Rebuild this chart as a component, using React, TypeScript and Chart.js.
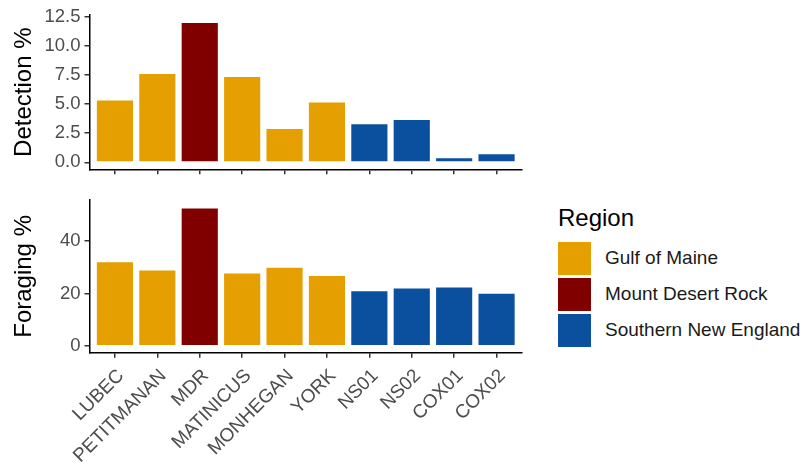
import React, { useEffect, useRef } from 'react';
import { Chart, registerables } from 'chart.js';

Chart.register(...registerables);

const sites = ['LUBEC', 'PETITMANAN', 'MDR', 'MATINICUS', 'MONHEGAN', 'YORK', 'NS01', 'NS02', 'COX01', 'COX02'];
const siteRegions = [
  'Gulf of Maine',
  'Gulf of Maine',
  'Mount Desert Rock',
  'Gulf of Maine',
  'Gulf of Maine',
  'Gulf of Maine',
  'Southern New England',
  'Southern New England',
  'Southern New England',
  'Southern New England',
];
const regionNames = ['Gulf of Maine', 'Mount Desert Rock', 'Southern New England'];
const regionColors = ['#E69F00', '#800000', '#0B509F'];

const detectionPct = [5.4, 7.67, 12.05, 7.42, 2.95, 5.23, 3.35, 3.72, 0.43, 0.77];
const foragingPct = [32.3, 29.2, 52.9, 27.97, 30.2, 27.07, 21.2, 22.3, 22.7, 20.3];

const detectionTicks = [0, 2.5, 5, 7.5, 10, 12.5];
const foragingTicks = [0, 20, 40];

const FONT = "'Liberation Sans', Arial, sans-serif";
Chart.defaults.font.family = FONT;

interface PanelProps {
  values: number[];
  tickValues: number[];
  decimals: number;
  title: string;
  yMin: number;
  yMax: number;
  showLabels: boolean;
  top: number;
  height: number;
  padTop: number;
  xAxisHeight: number;
}

const Panel: React.FC<PanelProps> = (p) => {
  const canvasRef = useRef<HTMLCanvasElement>(null);

  useEffect(() => {
    if (!canvasRef.current) return;
    const colors = siteRegions.map((r) => regionColors[regionNames.indexOf(r)]);

    const chart = new Chart(canvasRef.current, {
      type: 'bar',
      data: {
        datasets: [
          {
            data: p.values.map((v, i) => ({ x: i, y: v })),
            backgroundColor: colors,
            borderColor: '#ffffff',
            borderWidth: 1,
            categoryPercentage: 1,
            barPercentage: 0.9,
          },
        ],
      },
      options: {
        animation: false,
        responsive: true,
        maintainAspectRatio: false,
        layout: { padding: { top: p.padTop, right: 18, left: 0, bottom: 0 } },
        plugins: { legend: { display: false }, tooltip: { enabled: false } },
        scales: {
          x: {
            type: 'linear',
            min: -0.6,
            max: 9.6,
            bounds: 'data',
            offset: false,
            afterBuildTicks: (s: any) => {
              s.ticks = sites.map((_, i) => ({ value: i }));
            },
            afterFit: (s: any) => {
              s.height = p.xAxisHeight;
            },
            ticks: {
              autoSkip: false,
              minRotation: p.showLabels ? 45 : 0,
              maxRotation: p.showLabels ? 45 : 0,
              padding: 7,
              labelOffset: 6,
              color: '#4D4D4D',
              font: { size: 19 },
              callback: (v: any) => (p.showLabels ? sites[Math.round(Number(v))] : ''),
            },
            grid: {
              offset: false,
              drawOnChartArea: false,
              drawTicks: true,
              tickLength: 5,
              color: '#333333',
              tickColor: '#333333',
              lineWidth: 1.5,
            },
            border: { display: true, color: '#000000', width: 1.5 },
          },
          y: {
            min: p.yMin,
            max: p.yMax,
            afterBuildTicks: (s: any) => {
              s.ticks = p.tickValues.map((v) => ({ value: v }));
            },
            afterFit: (s: any) => {
              s.width = 89.5;
            },
            ticks: {
              padding: 4,
              color: '#4D4D4D',
              font: { size: 18.5 },
              callback: (v: any) => Number(v).toFixed(p.decimals),
            },
            grid: {
              drawOnChartArea: false,
              drawTicks: true,
              tickLength: 5,
              color: '#333333',
              tickColor: '#333333',
              lineWidth: 1.5,
            },
            border: { display: true, color: '#000000', width: 1.5 },
            title: {
              display: true,
              text: p.title,
              color: '#000000',
              font: { size: 24 },
              padding: { top: 10, bottom: 0 },
            },
          },
        },
      },
    });

    return () => {
      chart.destroy();
    };
  }, [p]);

  return (
    <div style={{ position: 'absolute', left: 0, top: p.top, width: 540, height: p.height }}>
      <canvas ref={canvasRef} />
    </div>
  );
};

const Legend: React.FC = () => (
  <div style={{ position: 'absolute', left: 558, top: 202, fontFamily: FONT }}>
    <div style={{ fontSize: 24, color: '#000', lineHeight: '32px', height: 38 }}>Region</div>
    {regionNames.map((name, i) => (
      <div key={name} style={{ display: 'flex', alignItems: 'center', height: 36 }}>
        <div style={{ width: 33, height: 33, background: regionColors[i], marginRight: 14 }} />
        <span style={{ fontSize: 19, color: '#1A1A1A' }}>{name}</span>
      </div>
    ))}
  </div>
);

const App: React.FC = () => (
  <div style={{ position: 'absolute', left: 0, top: 0, width: 807, height: 466, background: '#ffffff', overflow: 'hidden' }}>
    <Panel
      values={detectionPct}
      tickValues={detectionTicks}
      decimals={1}
      title="Detection %"
      yMin={-0.6}
      yMax={12.64}
      showLabels={false}
      top={0}
      height={185}
      padTop={14}
      xAxisHeight={15.7}
    />
    <Panel
      values={foragingPct}
      tickValues={foragingTicks}
      decimals={0}
      title="Foraging %"
      yMin={-2.65}
      yMax={55.7}
      showLabels={true}
      top={185}
      height={281}
      padTop={12.3}
      xAxisHeight={113.3}
    />
    <Legend />
  </div>
);

export default App;
